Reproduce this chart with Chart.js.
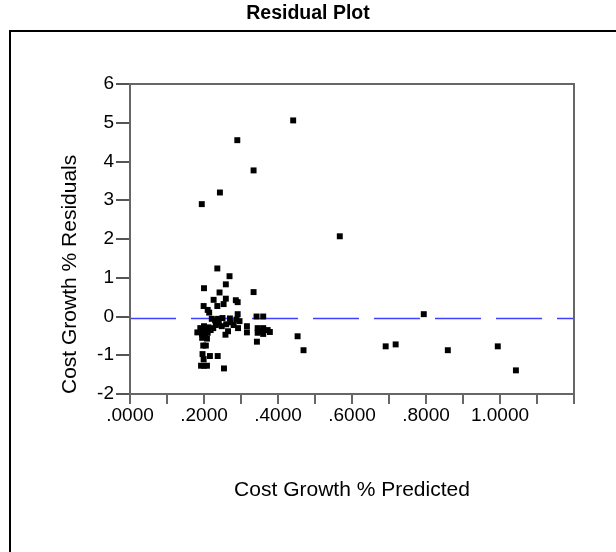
<!DOCTYPE html>
<html lang="en">
<head>
  <meta charset="UTF-8">
  <title>Residual Plot</title>
  <script src="https://cdn.jsdelivr.net/npm/chart.js@4"></script>
  <style>
    * { box-sizing: border-box; margin: 0; padding: 0; }
    body { background: #fff; width: 616px; height: 552px; overflow: hidden; }
    canvas { display: block; }
  </style>
</head>
<body>
  <canvas id="resid" width="616" height="552"></canvas>
  <script>
    // predicted cost growth (x) and residuals (y)
    const predicted = [
      0.441, 0.290, 0.334, 0.243, 0.194, 0.567,
      0.236, 0.269, 0.259, 0.200, 0.334, 0.242,
      0.226, 0.259, 0.286, 0.291, 0.199, 0.236, 0.253, 0.210, 0.214, 0.291,
      0.342, 0.360, 0.221, 0.238, 0.250, 0.270, 0.288, 0.230, 0.794,
      0.182, 0.190, 0.200, 0.205, 0.212, 0.218, 0.195, 0.203, 0.210, 0.225,
      0.232, 0.240, 0.248, 0.260, 0.265, 0.272, 0.280, 0.292, 0.296, 0.258,
      0.195, 0.208, 0.198, 0.205, 0.196, 0.216, 0.237, 0.192, 0.200, 0.208, 0.254, 0.199,
      0.316, 0.316, 0.345, 0.360, 0.372, 0.345, 0.360, 0.378, 0.343, 0.352,
      0.453, 0.469, 0.691, 0.718, 0.859, 0.994, 1.043
    ];
    const residuals = [
      5.06, 4.55, 3.77, 3.20, 2.90, 2.07,
      1.24, 1.04, 0.83, 0.73, 0.63, 0.62,
      0.43, 0.46, 0.42, 0.37, 0.27, 0.27, 0.32, 0.17, 0.10, 0.06,
      0.00, 0.00, -0.06, -0.06, -0.04, -0.05, -0.08, -0.10, 0.06,
      -0.41, -0.30, -0.25, -0.33, -0.28, -0.35, -0.45, -0.50, -0.42, -0.30,
      -0.22, -0.18, -0.25, -0.20, -0.38, -0.15, -0.22, -0.30, -0.12, -0.47,
      -0.55, -0.57, -0.75, -0.75, -0.97, -1.02, -1.02, -1.27, -1.27, -1.27, -1.34, -1.10,
      -0.25, -0.41, -0.30, -0.30, -0.35, -0.42, -0.45, -0.40, -0.65, -0.38,
      -0.51, -0.87, -0.77, -0.72, -0.87, -0.77, -1.39
    ];
    // dashed reference line
    const refX = [0, 1.2];
    const refY = [-0.05, -0.05];

    const font = "'Liberation Sans', Arial, sans-serif";

    const framePlugin = {
      id: 'frame',
      beforeDraw(chart) {
        const c = chart.ctx;
        c.save();
        c.fillStyle = '#fff';
        c.fillRect(0, 0, chart.width, chart.height);
        c.strokeStyle = '#000';
        c.lineWidth = 2;
        c.beginPath();
        c.moveTo(10, chart.height + 2);
        c.lineTo(10, 31);
        c.lineTo(chart.width + 2, 31);
        c.stroke();
        c.restore();
      },
      afterDatasetsDraw(chart) {
        const a = chart.chartArea, c = chart.ctx;
        c.save();
        c.strokeStyle = '#666';
        c.lineWidth = 2;
        c.strokeRect(a.left, a.top, a.right - a.left, a.bottom - a.top);
        c.restore();
      }
    };

    new Chart(document.getElementById('resid'), {
      type: 'scatter',
      data: {
        datasets: [
          {
            data: predicted.map((x, i) => ({ x, y: residuals[i] })),
            pointStyle: 'rect', pointRadius: 4.2, pointHoverRadius: 4.2,
            backgroundColor: '#000', borderWidth: 0, order: 1
          },
          {
            type: 'line',
            data: refX.map((x, i) => ({ x, y: refY[i] })),
            borderColor: '#4040ff', borderWidth: 1.5, borderDash: [46, 15],
            pointRadius: 0, fill: false, order: 2
          }
        ]
      },
      options: {
        responsive: false,
        animation: false,
        devicePixelRatio: 1,
        layout: { padding: 0 },
        plugins: {
          legend: { display: false },
          tooltip: { enabled: false },
          title: {
            display: true, text: 'Residual Plot', color: '#000',
            font: { family: font, size: 19.5, weight: 'bold' },
            padding: { top: 2, bottom: 58.6 }
          }
        },
        scales: {
          x: {
            type: 'linear', min: 0, max: 1.2,
            afterFit: s => { s.height = 158; },
            border: { display: false },
            grid: { drawOnChartArea: false, tickLength: 10, color: '#666', lineWidth: 2 },
            ticks: {
              stepSize: 0.1, color: '#000', padding: 0, maxRotation: 0, autoSkip: false,
              font: { family: font, size: 19 },
              callback: (v, i) => (i % 2 === 0 && v < 1.1) ? v.toFixed(4).replace(/^0/, '') : ''
            },
            title: {
              display: true, text: 'Cost Growth % Predicted', color: '#000',
              font: { family: font, size: 21 }, padding: { top: 4, bottom: 49.4 }
            }
          },
          y: {
            type: 'linear', min: -2, max: 6,
            afterFit: s => { s.width = 130; },
            border: { display: false },
            grid: { drawOnChartArea: false, tickLength: 14, color: '#555', lineWidth: 2 },
            ticks: { stepSize: 1, color: '#000', padding: 2, font: { family: font, size: 19 } },
            title: {
              display: true, text: 'Cost Growth % Residuals', color: '#000', align: 'start',
              font: { family: font, size: 21 }, padding: { top: 57.4, bottom: 4 }
            }
          },
          // empty right margin so the chart area ends where the original does
          yRight: {
            type: 'linear', position: 'right', min: -2, max: 6,
            afterFit: s => { s.width = 42; },
            border: { display: false }, grid: { display: false }, ticks: { display: false }
          }
        }
      },
      plugins: [framePlugin]
    });
  </script>
</body>
</html>
